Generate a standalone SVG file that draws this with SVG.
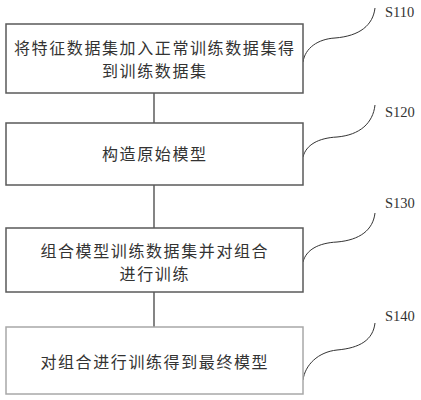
<svg xmlns="http://www.w3.org/2000/svg" width="421" height="400" viewBox="0 0 421 400">
<style>
.box{fill:#fff;stroke:#5a5a5a;stroke-width:1.5}
.box4{fill:#fff;stroke:#a8a8a8;stroke-width:1.5}
.t{font-family:"Noto Sans CJK SC",sans-serif;font-size:16px;letter-spacing:1.6px;fill:#333;text-anchor:middle}
.lbl{font-family:"Liberation Serif",serif;font-size:14.5px;fill:#333}
.c{fill:none;stroke:#333;stroke-width:1.2}
.w{fill:none;stroke:#333;stroke-width:1}
</style>
<rect width="421" height="400" fill="#fff"/>
<g id="connectors">
<line class="c" x1="154" y1="93" x2="154" y2="123"/>
<line class="c" x1="154" y1="185" x2="154" y2="228"/>
<line class="c" x1="154" y1="292" x2="154" y2="327"/>
<path class="w" d="M303,62 C305,48 318,39 335,38 C360,36 373,25 375,8"/>
<path class="w" d="M303,157 C306,145 318,138 337,137 C360,135 373,123 375,105"/>
<path class="w" d="M303,262 C306,250 318,243 337,242 C360,240 373,230 375,213"/>
<path class="w" d="M303,380 C305,365 318,352 337,350 C360,348 373,340 375,323"/>
</g>
<g id="s110">
<rect class="box" x="6" y="24" width="297" height="69"/>
<text class="t"><tspan x="154.8" y="54">将特征数据集加入正常训练数据集得</tspan><tspan x="154.8" y="77">到训练数据集</tspan></text>
<text class="lbl" x="385" y="17">S110</text>
</g>
<g id="s120">
<rect class="box" x="6" y="123" width="297" height="62"/>
<text class="t" x="154.8" y="160">构造原始模型</text>
<text class="lbl" x="385" y="117">S120</text>
</g>
<g id="s130">
<rect class="box" x="6" y="228" width="297" height="64"/>
<text class="t"><tspan x="154.8" y="257">组合模型训练数据集并对组合</tspan><tspan x="154.8" y="280">进行训练</tspan></text>
<text class="lbl" x="385" y="208">S130</text>
</g>
<g id="s140">
<rect class="box4" x="6" y="327" width="297" height="67"/>
<text class="t" x="154.8" y="368">对组合进行训练得到最终模型</text>
<text class="lbl" x="385" y="321">S140</text>
</g>
</svg>
